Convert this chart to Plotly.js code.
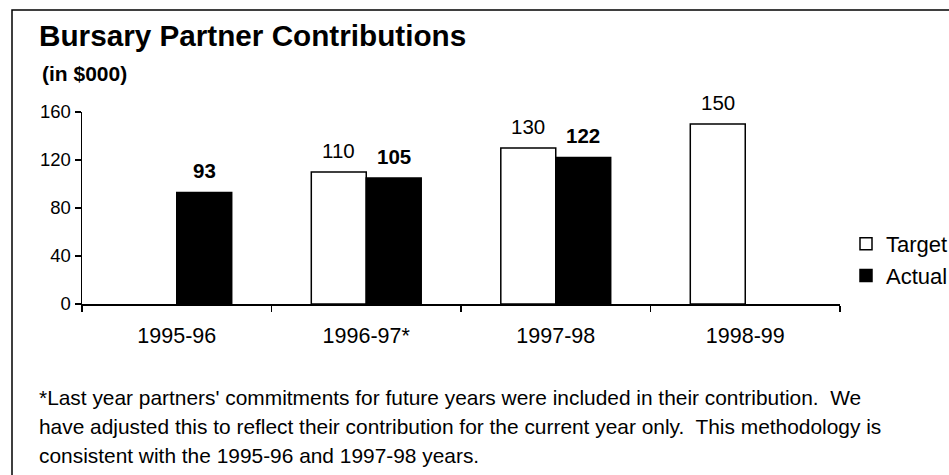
<!DOCTYPE html>
<html>
<head>
<meta charset="utf-8">
<script src="https://cdn.plot.ly/plotly-3.0.1.min.js"></script>
<style>
  html, body { margin: 0; padding: 0; background: #fff; }
  #chart { width: 949px; height: 475px; }
</style>
</head>
<body>
<div id="chart"></div>
<script>
// ---- data ----
const categories = ['1995-96', '1996-97*', '1997-98', '1998-99'];
const target = [null, 110, 130, 150];
const actual = [93, 105, 122, null];
const yTicks = [0, 40, 80, 120, 160];
const seriesNames = ['Target', 'Actual'];
const titleText = 'Bursary Partner Contributions';
const subtitleText = '(in $000)';
const footnoteLines = [
  "*Last year partners' commitments for future years were included in their contribution.  We",
  "have adjusted this to reflect their contribution for the current year only.  This methodology is",
  "consistent with the 1995-96 and 1997-98 years."
];

// ---- geometry (pixels) ----
const W = 949, H = 475;
const L = 82, R = 840, T = 112, B = 304;
const px = x => (x - L) / (R - L);
const py = y => (B - y) / (B - T);
const FONT = 'Arial, "Liberation Sans", sans-serif';

const traces = [
  {
    type: 'bar', name: seriesNames[0], x: categories, y: target,
    marker: { color: '#ffffff', line: { color: '#000000', width: 1.5 } },
    hoverinfo: 'x+y'
  },
  {
    type: 'bar', name: seriesNames[1], x: categories, y: actual,
    marker: { color: '#000000', line: { color: '#000000', width: 1.5 } },
    hoverinfo: 'x+y'
  }
];

const annotations = [];
// value labels
target.forEach((v, i) => {
  if (v === null) return;
  annotations.push({
    x: categories[i], y: v, xref: 'x', yref: 'y', xshift: -27.5, yshift: 22,
    text: String(v), showarrow: false, xanchor: 'center', yanchor: 'middle',
    font: { family: FONT, size: 20.5, color: '#000' }
  });
});
actual.forEach((v, i) => {
  if (v === null) return;
  annotations.push({
    x: categories[i], y: v, xref: 'x', yref: 'y', xshift: 27.5, yshift: 22,
    text: '<b>' + v + '</b>', showarrow: false, xanchor: 'center', yanchor: 'middle',
    font: { family: FONT, size: 20.5, color: '#000' }
  });
});
// subtitle
annotations.push({
  x: px(40), y: py(73), xref: 'paper', yref: 'paper', xanchor: 'left', yanchor: 'middle',
  text: '<b>' + subtitleText + '</b>', showarrow: false,
  font: { family: FONT, size: 21, color: '#000' }
});
// footnote
const footY = [397, 426, 455];
footnoteLines.forEach((line, i) => {
  annotations.push({
    x: px(37), y: py(footY[i]), xref: 'paper', yref: 'paper', xanchor: 'left', yanchor: 'middle',
    text: line, showarrow: false, align: 'left',
    font: { family: FONT, size: 20.9, color: '#000' }
  });
});

const layout = {
  width: W, height: H,
  margin: { l: L, r: W - R, t: T, b: H - B, pad: 0, autoexpand: false },
  paper_bgcolor: '#ffffff', plot_bgcolor: '#ffffff',
  font: { family: FONT, color: '#000' },
  title: {
    text: '<b>' + titleText + '</b>',
    xref: 'container', yref: 'container',
    x: 39 / W, xanchor: 'left', y: 1 - 36 / H, yanchor: 'middle',
    font: { family: FONT, size: 29.7, color: '#000' }
  },
  barmode: 'group', bargap: 0.42, bargroupgap: 0,
  xaxis: {
    type: 'category', showline: true, linecolor: '#000', linewidth: 1.5,
    ticks: 'outside', tickson: 'boundaries', ticklen: 6, tickwidth: 1.5, tickcolor: '#000',
    showgrid: false, zeroline: false, fixedrange: true, automargin: false,
    ticklabelstandoff: 12,
    tickfont: { family: FONT, size: 21.5, color: '#000' }
  },
  yaxis: {
    range: [0, 160], tickvals: yTicks, ticktext: yTicks.map(String),
    showline: true, linecolor: '#000', linewidth: 1.5,
    ticks: 'outside', ticklen: 6, tickwidth: 1.5, tickcolor: '#000',
    showgrid: false, zeroline: false, fixedrange: true, automargin: false,
    tickfont: { family: FONT, size: 18.5, color: '#000' }
  },
  legend: {
    x: px(846), xanchor: 'left', y: py(223), yanchor: 'top',
    bgcolor: 'rgba(0,0,0,0)', borderwidth: 0,
    font: { family: FONT, size: 22, color: '#000' },
    itemclick: false, itemdoubleclick: false
  },
  annotations: annotations,
  shapes: [{
    type: 'rect', xref: 'paper', yref: 'paper',
    x0: px(12), x1: px(960), y0: py(490), y1: py(10),
    line: { color: '#000', width: 1.5 }, fillcolor: 'rgba(0,0,0,0)'
  }]
};

Plotly.newPlot('chart', traces, layout, { displayModeBar: false, staticPlot: true });
</script>
</body>
</html>
